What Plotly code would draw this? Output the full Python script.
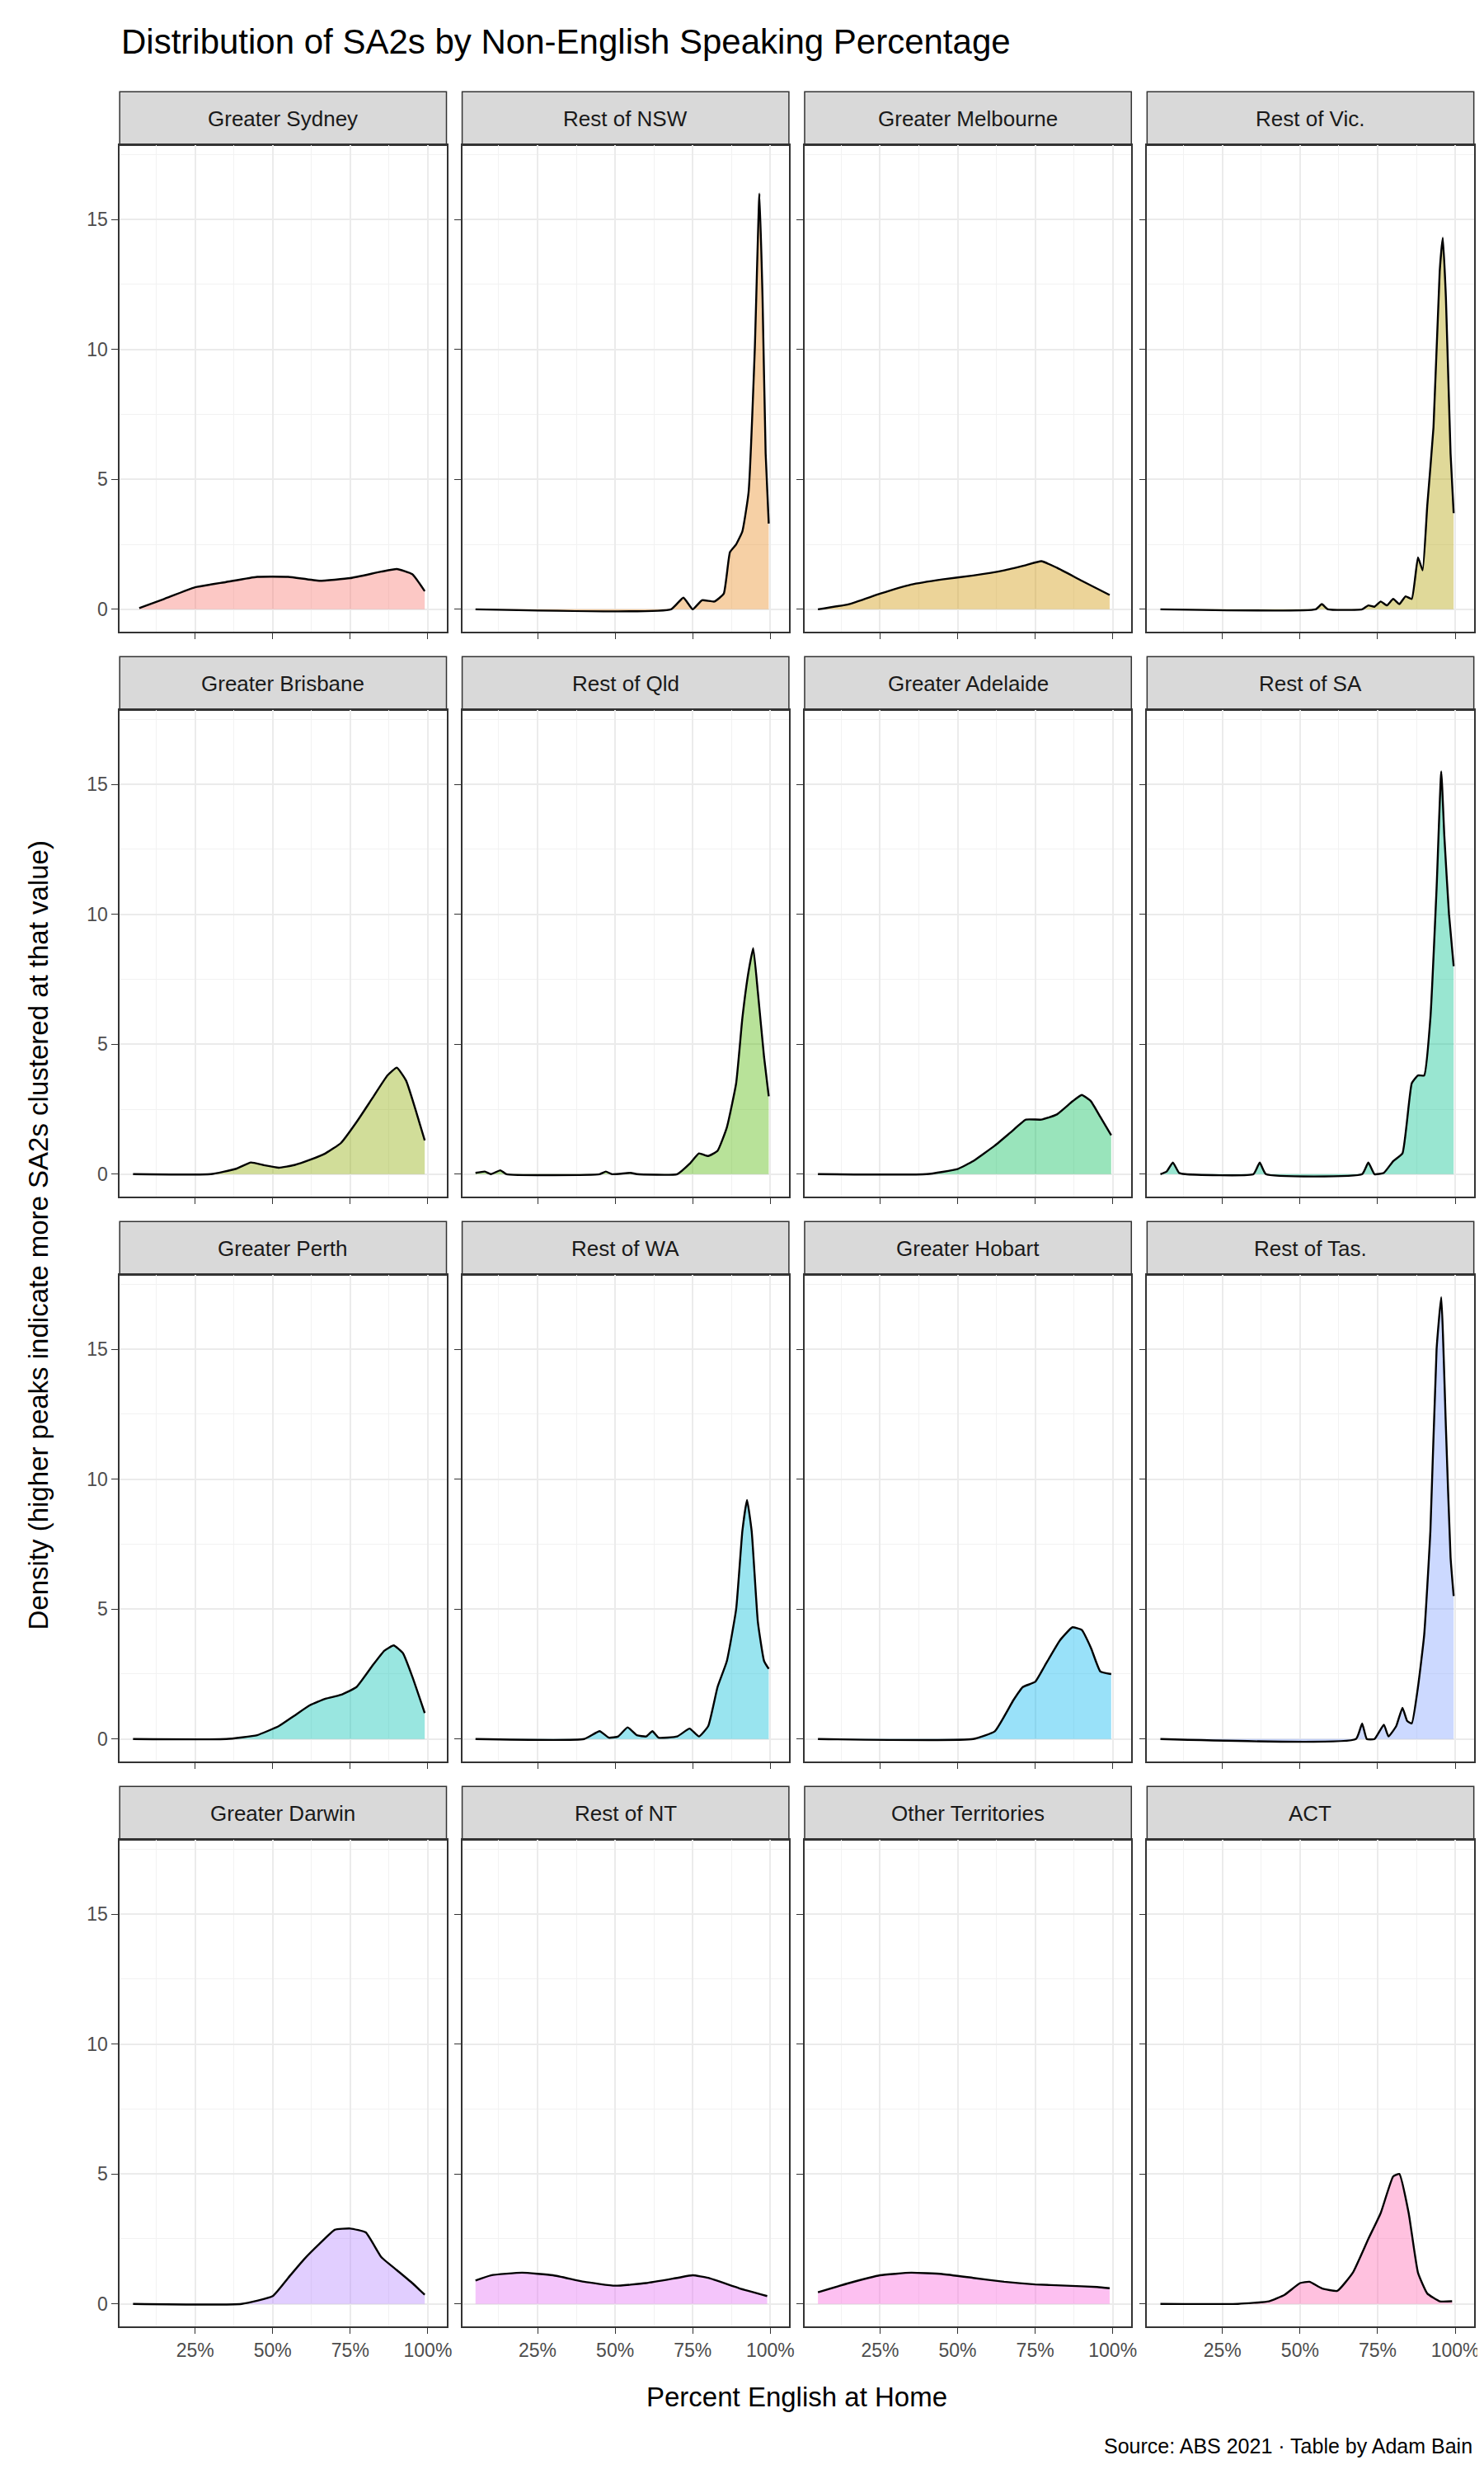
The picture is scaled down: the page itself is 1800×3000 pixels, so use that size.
import plotly.graph_objects as go

regions = ["Greater Sydney","Rest of NSW","Greater Melbourne","Rest of Vic.",
           "Greater Brisbane","Rest of Qld","Greater Adelaide","Rest of SA",
           "Greater Perth","Rest of WA","Greater Hobart","Rest of Tas.",
           "Greater Darwin","Rest of NT","Other Territories","ACT"]
colors = ["#F8766D","#E8891F","#CF9400","#B2A000","#8DAB00","#4EB600","#00BC56","#00C08B",
          "#00C1B2","#00BCD6","#00B3F0","#7F9FFF","#B385FF","#E36EF6","#F962DD","#FF65AE"]

sydney_x = [7,15,25,35,45,55,65,75,85,90,95,99]
sydney_y = [0.05,0.4,0.85,1.05,1.25,1.25,1.1,1.2,1.45,1.55,1.35,0.7]
nsw_x = [5,68,72,75,78,82,85,87,89,91,93,95,96.5,97.5,98.5,99.5]
nsw_y = [0,0,0.45,0.0,0.35,0.3,0.6,2.2,2.5,3.0,4.5,10,16,12,6,3.3]
melb_x = [5,15,25,35,45,55,65,72,77,82,90,99]
melb_y = [0,0.2,0.6,0.95,1.15,1.3,1.5,1.7,1.85,1.6,1.1,0.55]
vic_x = [5,55,57,59,70,72,74,76,78,80,82,84,86,88,89.5,91,93,95,96,97,98.5,99.5]
vic_y = [0,0,0.2,0,0,0.15,0.1,0.3,0.15,0.4,0.2,0.5,0.4,2.0,1.5,4,7,13,14.3,12,6,3.7]
bris_x = [5,30,38,43,47,52,57,62,67,72,77,82,87,90,93,96,99]
bris_y = [0,0,0.2,0.45,0.35,0.25,0.35,0.55,0.8,1.2,2.0,2.9,3.8,4.1,3.6,2.5,1.3]
qld_x = [5,8,10,13,15,45,47,49,55,57,70,74,77,80,83,86,89,91,93,94.5,96,98,99.5]
qld_y = [0.05,0.1,0,0.15,0,0,0.1,0,0.05,0,0,0.4,0.8,0.7,0.9,1.8,3.5,6,7.8,8.7,7,4.5,3]
adel_x = [5,40,50,55,62,67,72,77,82,87,90,93,96,99.5]
adel_y = [0,0,0.2,0.5,1.1,1.6,2.1,2.1,2.3,2.8,3.05,2.8,2.2,1.5]
sa_x = [5,7,9,11,13,35,37,39,70,72,74,77,80,83,86,88,90,92,94,95.5,96.5,98,99.5]
sa_y = [0,0.1,0.45,0.05,0,0,0.45,0,0,0.45,0,0.05,0.5,0.8,3.5,3.8,3.8,6,11,15.5,13,10,8]
perth_x = [5,35,45,52,57,62,67,72,77,82,86,89,92,95,99]
perth_y = [0,0,0.15,0.5,0.9,1.3,1.55,1.7,2.0,2.8,3.4,3.6,3.3,2.4,1.0]
wa_x = [5,40,45,48,51,54,57,60,62,64,70,74,77,80,83,86,89,91,92.5,94,96,98,99.5]
wa_y = [0,0,0.3,0.05,0.1,0.45,0.15,0.1,0.3,0.05,0.1,0.4,0.1,0.5,2,3,5,8,9.2,8,4.5,3,2.7]
hob_x = [5,55,62,68,71,75,78,83,87,90,93,96,99.5]
hob_y = [0,0,0.3,1.5,2.0,2.2,2.8,3.8,4.3,4.2,3.5,2.6,2.5]
tas_x = [5,68,70,71.5,74,77,78.5,81,83,84.5,86,88,90,92,94,95.5,97,98.5,99.5]
tas_y = [0,0,0.6,0,0,0.55,0.1,0.5,1.2,0.7,0.6,2.0,4,8,15,17,12,7,5.5]
darw_x = [5,40,50,55,60,65,70,75,80,85,90,95,99]
darw_y = [0,0,0.3,1.0,1.7,2.3,2.85,2.9,2.75,1.8,1.3,0.8,0.35]
nt_x = [5,10,20,30,40,50,60,70,75,80,90,99]
nt_y = [0.9,1.1,1.2,1.1,0.85,0.7,0.8,1.0,1.1,1.0,0.6,0.3]
oth_x = [5,15,25,35,45,55,65,75,85,95,99]
oth_y = [0.45,0.8,1.1,1.2,1.15,1.0,0.85,0.75,0.7,0.65,0.6]
act_x = [5,30,40,45,50,53,57,62,67,72,76,80,82,85,88,91,95,99]
act_y = [0,0,0.1,0.35,0.8,0.85,0.6,0.5,1.2,2.5,3.5,4.9,5.0,3.5,1.2,0.4,0.1,0.1]

series = [(sydney_x,sydney_y),(nsw_x,nsw_y),(melb_x,melb_y),(vic_x,vic_y),
          (bris_x,bris_y),(qld_x,qld_y),(adel_x,adel_y),(sa_x,sa_y),
          (perth_x,perth_y),(wa_x,wa_y),(hob_x,hob_y),(tas_x,tas_y),
          (darw_x,darw_y),(nt_x,nt_y),(oth_x,oth_y),(act_x,act_y)]

x_ticks = [25,50,75,100]
y_ticks = [0,5,10,15]

W, H = 941.0, 1568.0
cols = [(72,280),(290,498),(508,716),(726,934)]
rows = [(54,88,396),(412,446,754),(770,804,1112),(1128,1162,1470)]

def rgba(h, a):
    h = h.lstrip('#')
    return "rgba(%d,%d,%d,%.2f)" % (int(h[0:2],16), int(h[2:4],16), int(h[4:6],16), a)

fig = go.Figure()
layout = {}
shapes = []
annotations = []
for i, name in enumerate(regions):
    r, c = divmod(i, 4)
    n = i + 1
    xa = "xaxis" if n == 1 else "xaxis%d" % n
    ya = "yaxis" if n == 1 else "yaxis%d" % n
    xr = "x" if n == 1 else "x%d" % n
    yr = "y" if n == 1 else "y%d" % n
    x0, x1 = cols[c]
    st, pt, pb = rows[r]
    layout[xa] = dict(domain=[x0/W, x1/W], anchor=yr, range=[0.7,106],
                      tickvals=x_ticks, ticktext=["%d%%" % v for v in x_ticks],
                      showticklabels=(r == 3), ticks="outside", ticklen=8, tickcolor="#333333",
                      showgrid=True, gridcolor="#EBEBEB", gridwidth=2,
                      minor=dict(tickvals=[12.5,37.5,62.5,87.5], showgrid=True, gridcolor="#F2F2F2", gridwidth=1, ticks=""),
                      showline=True, mirror=True, linecolor="#333333", linewidth=1.5, zeroline=False,
                      tickfont=dict(size=23, color="#4D4D4D"))
    layout[ya] = dict(domain=[1-pb/H, 1-pt/H], anchor=xr, range=[-0.85,17.85],
                      tickvals=y_ticks, showticklabels=(c == 0), ticks="outside", ticklen=8, tickcolor="#333333",
                      showgrid=True, gridcolor="#EBEBEB", gridwidth=2,
                      minor=dict(tickvals=[2.5,7.5,12.5,17.5], showgrid=True, gridcolor="#F2F2F2", gridwidth=1, ticks=""),
                      showline=True, mirror=True, linecolor="#333333", linewidth=1.5, zeroline=False,
                      tickfont=dict(size=23, color="#4D4D4D"))
    xs, ys = series[i]
    fig.add_trace(go.Scatter(x=xs, y=ys, xaxis=xr, yaxis=yr, mode="lines",
                             line=dict(color="black", width=2.4, shape="spline", smoothing=0.4),
                             fill="tozeroy", fillcolor=rgba(colors[i], 0.4), showlegend=False,
                             hoverinfo="skip"))
    shapes.append(dict(type="rect", xref="paper", yref="paper", x0=x0/W, x1=x1/W,
                       y0=1-pt/H, y1=1-st/H, fillcolor="#D9D9D9",
                       line=dict(color="#333333", width=1.5), layer="below"))
    annotations.append(dict(text=name, x=(x0+x1)/2/W, y=1-(st+pt)/2/H, xref="paper", yref="paper",
                            xanchor="center", yanchor="middle",
                            showarrow=False, font=dict(size=26, color="#1A1A1A")))

annotations += [
    dict(text="Distribution of SA2s by Non-English Speaking Percentage", x=72/W, y=1-22/H,
         xref="paper", yref="paper", xanchor="left", yanchor="middle", showarrow=False,
         font=dict(size=42, color="black")),
    dict(text="Percent English at Home", x=503/W, y=1-1515/H, xref="paper", yref="paper",
         xanchor="center", yanchor="middle", showarrow=False, font=dict(size=33, color="black")),
    dict(text="Density (higher peaks indicate more SA2s clustered at that value)", x=20/W, y=1-779/H,
         xref="paper", yref="paper", xanchor="center", yanchor="middle", textangle=-90,
         showarrow=False, font=dict(size=33, color="black")),
    dict(text="Source: ABS 2021 · Table by Adam Bain", x=934/W, y=1-1546/H, xref="paper", yref="paper",
         xanchor="right", yanchor="middle", showarrow=False, font=dict(size=25, color="black")),
]

fig.update_layout(width=1800, height=3000, margin=dict(l=0, r=0, t=0, b=0),
                  paper_bgcolor="white", plot_bgcolor="white",
                  font=dict(family="Liberation Sans, Arial, sans-serif"),
                  shapes=shapes, annotations=annotations, **layout)
fig.write_html("out.html")
